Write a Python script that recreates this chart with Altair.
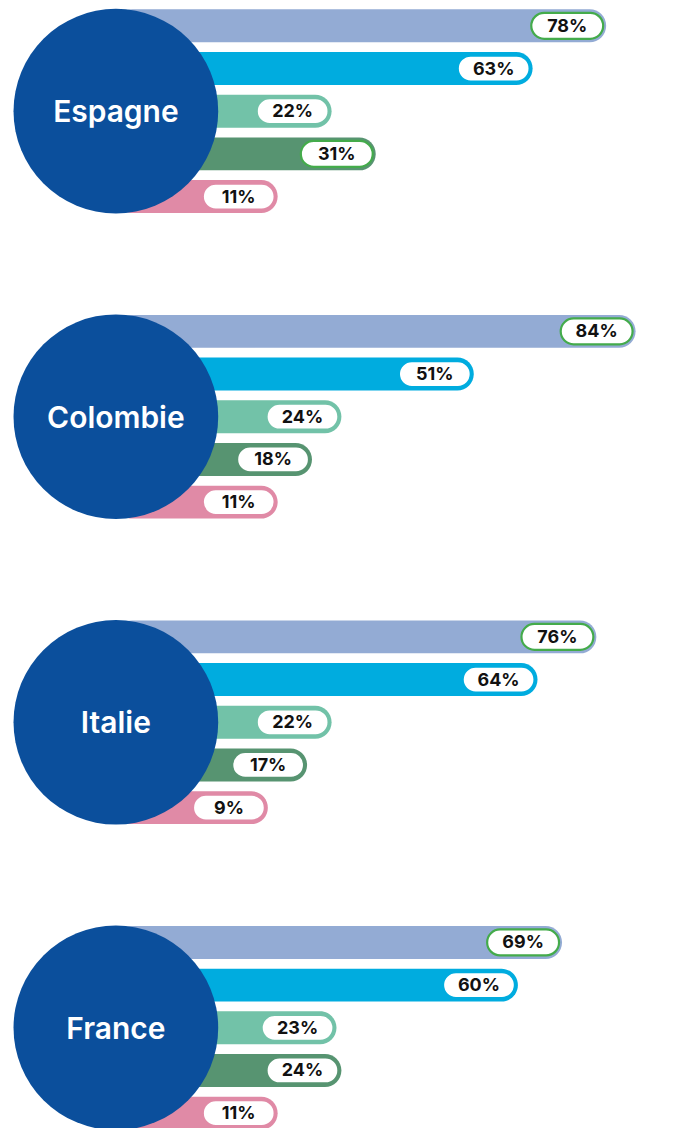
import altair as alt
import pandas as pd

# ---- data ----
countries = ["Espagne", "Colombie", "Italie", "France"]
categories = ["Série 1", "Série 2", "Série 3", "Série 4", "Série 5"]
espagne = [78, 63, 22, 31, 11]
colombie = [84, 51, 24, 18, 11]
italie = [76, 64, 22, 17, 9]
france = [69, 60, 23, 24, 11]
# pills outlined in green
highlight_espagne = [True, False, False, True, False]
highlight_colombie = [True, False, False, False, False]
highlight_italie = [True, False, False, False, False]
highlight_france = [True, False, False, False, False]

series_colors = ["#93abd4", "#00acdf", "#72c2a8", "#579471", "#e08aa6"]
CIRCLE = "#0b4f9c"
GREEN = "#44ab4b"
BASE = -22  # bars start under the circle centre
FONT = "Inter"

values = [espagne, colombie, italie, france]
highlights = [highlight_espagne, highlight_colombie, highlight_italie, highlight_france]
rows = []
for c, vals, hls in zip(countries, values, highlights):
    for cat, v, h in zip(categories, vals, hls):
        rows.append({"country": c, "category": cat, "value": v, "highlight": h,
                     "label": f"{v}%"})
df = pd.DataFrame(rows)

xscale = alt.Scale(domain=[-44, 90], nice=False, zero=False)
yscale = alt.Scale(domain=categories, paddingInner=0.205, paddingOuter=0)
cscale = alt.Scale(domain=categories, range=series_colors)

base = alt.Chart(df)

bars = base.mark_bar(size=33, cornerRadius=16.5).encode(
    x=alt.X("value:Q", scale=xscale, axis=None),
    x2=alt.X2Datum(BASE),
    y=alt.Y("category:N", scale=yscale, axis=None),
    color=alt.Color("category:N", scale=cscale, legend=None),
)

pills = base.mark_bar(size=26, cornerRadius=13, fill="white", strokeWidth=2.2,
                      xOffset=-75, x2Offset=-3).encode(
    x=alt.X("value:Q", scale=xscale, axis=None),
    x2=alt.X2("value:Q"),
    y=alt.Y("category:N", scale=yscale, axis=None),
    stroke=alt.condition("datum.highlight", alt.value(GREEN),
                         alt.Color("category:N", scale=cscale, legend=None)),
)

labels = base.mark_text(font=FONT, fontSize=18, fontWeight="bold", color="#111111",
                        align="center", baseline="middle", xOffset=-39, dy=1).encode(
    x=alt.X("value:Q", scale=xscale, axis=None),
    y=alt.Y("category:N", scale=yscale, axis=None),
    text="label:N",
)

mid = base.transform_filter(alt.datum.category == categories[2])

circle = mid.mark_circle(size=205 * 205, color=CIRCLE, opacity=1).encode(
    x=alt.XDatum(BASE, scale=xscale, axis=None),
    y=alt.Y("category:N", scale=yscale, axis=None),
)

names = mid.mark_text(font=FONT, fontSize=30, fontWeight=600, color="white",
                      align="center", baseline="middle", dy=2).encode(
    x=alt.XDatum(BASE, scale=xscale, axis=None),
    y=alt.Y("category:N", scale=yscale, axis=None),
    text="country:N",
)

layer = alt.layer(bars, pills, labels, circle, names).properties(width=658, height=205)

chart = layer.facet(
    row=alt.Row("country:N", sort=countries, header=alt.Header(labels=False, title=None)),
    spacing=101,
).properties(padding=0).configure_view(stroke=None)

chart.save("out.html", embed_options={"renderer": "svg", "actions": False})
